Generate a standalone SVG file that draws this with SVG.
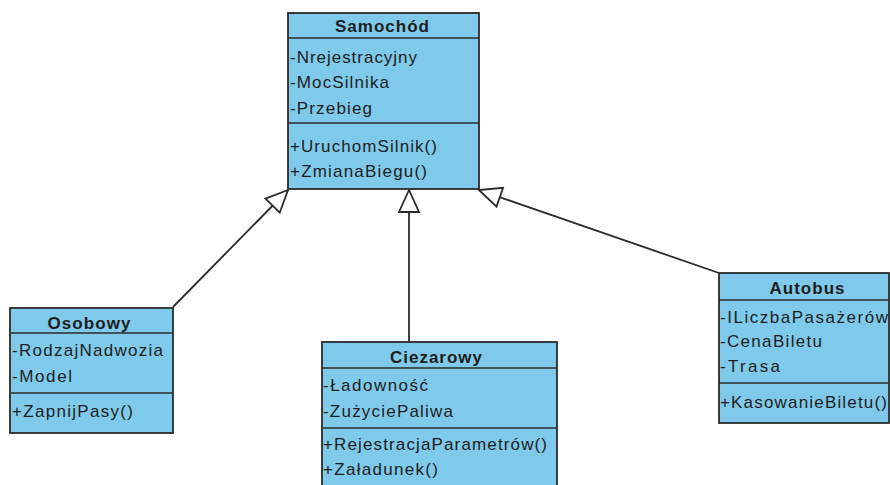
<svg xmlns="http://www.w3.org/2000/svg" width="890" height="485" viewBox="0 0 890 485">
<defs>
<style>
.box{fill:#7FC9EA;stroke:#2b2b2b;stroke-width:1.8}
.sep{stroke:#2b2b2b;stroke-width:1.6}
.h{font-family:"Liberation Sans",Arial,sans-serif;font-size:17px;font-weight:bold;fill:#1e1e1e;text-anchor:middle}
.t{font-family:"Liberation Sans",Arial,sans-serif;font-size:17px;fill:#1e1e1e}
.c{fill:none;stroke:#2b2b2b;stroke-width:1.8}
</style>
<marker id="gen" markerUnits="userSpaceOnUse" viewBox="-26 -13 28 26" markerWidth="28" markerHeight="26" refX="0" refY="0" orient="auto" overflow="visible">
<path d="M0,0 L-22,-10 L-22,10 Z" fill="#ffffff" stroke="#2b2b2b" stroke-width="1.8" stroke-linejoin="miter"/>
</marker>
</defs>
<rect width="890" height="485" fill="#ffffff"/>
<g id="connectors">
<line class="c" x1="173" y1="307" x2="288" y2="190" marker-end="url(#gen)"/>
<line class="c" x1="409" y1="342" x2="409" y2="190" marker-end="url(#gen)"/>
<line class="c" x1="719" y1="273" x2="479" y2="190" marker-end="url(#gen)"/>
</g>
<g id="samochod">
<rect class="box" x="288" y="13" width="191" height="176"/>
<line class="sep" x1="288" y1="38" x2="479" y2="38"/>
<line class="sep" x1="288" y1="123" x2="479" y2="123"/>
<text class="h" x="382" y="32" textLength="94" lengthAdjust="spacing">Samochód</text>
<text class="t" x="290" y="63" textLength="127" lengthAdjust="spacing">-Nrejestracyjny</text>
<text class="t" x="290" y="88" textLength="99" lengthAdjust="spacing">-MocSilnika</text>
<text class="t" x="290" y="114" textLength="82" lengthAdjust="spacing">-Przebieg</text>
<text class="t" x="290" y="152" textLength="147" lengthAdjust="spacing">+UruchomSilnik()</text>
<text class="t" x="290" y="177" textLength="137" lengthAdjust="spacing">+ZmianaBiegu()</text>
</g>
<g id="osobowy">
<rect class="box" x="10" y="308" width="163" height="125"/>
<line class="sep" x1="10" y1="333" x2="173" y2="333"/>
<line class="sep" x1="10" y1="393" x2="173" y2="393"/>
<text class="h" x="89" y="329" textLength="83" lengthAdjust="spacing">Osobowy</text>
<text class="t" x="12" y="356" textLength="151" lengthAdjust="spacing">-RodzajNadwozia</text>
<text class="t" x="12" y="382" textLength="60" lengthAdjust="spacing">-Model</text>
<text class="t" x="12" y="417" textLength="121" lengthAdjust="spacing">+ZapnijPasy()</text>
</g>
<g id="ciezarowy">
<rect class="box" x="322" y="342" width="235" height="160"/>
<line class="sep" x1="322" y1="368" x2="557" y2="368"/>
<line class="sep" x1="322" y1="428" x2="557" y2="428"/>
<text class="h" x="436" y="363" textLength="92" lengthAdjust="spacing">Ciezarowy</text>
<text class="t" x="323" y="391" textLength="105" lengthAdjust="spacing">-Ładowność</text>
<text class="t" x="323" y="417" textLength="130" lengthAdjust="spacing">-ZużyciePaliwa</text>
<text class="t" x="323" y="450" textLength="224" lengthAdjust="spacing">+RejestracjaParametrów()</text>
<text class="t" x="323" y="475" textLength="115" lengthAdjust="spacing">+Załadunek()</text>
</g>
<g id="autobus">
<rect class="box" x="719" y="273" width="170" height="150"/>
<line class="sep" x1="719" y1="300" x2="889" y2="300"/>
<line class="sep" x1="719" y1="383" x2="889" y2="383"/>
<text class="h" x="807" y="294" textLength="75" lengthAdjust="spacing">Autobus</text>
<text class="t" x="720" y="323" textLength="168" lengthAdjust="spacing">-ILiczbaPasażerów</text>
<text class="t" x="720" y="347" textLength="102" lengthAdjust="spacing">-CenaBiletu</text>
<text class="t" x="720" y="372" textLength="60" lengthAdjust="spacing">-Trasa</text>
<text class="t" x="720" y="408" textLength="167" lengthAdjust="spacing">+KasowanieBiletu()</text>
</g>
</svg>
